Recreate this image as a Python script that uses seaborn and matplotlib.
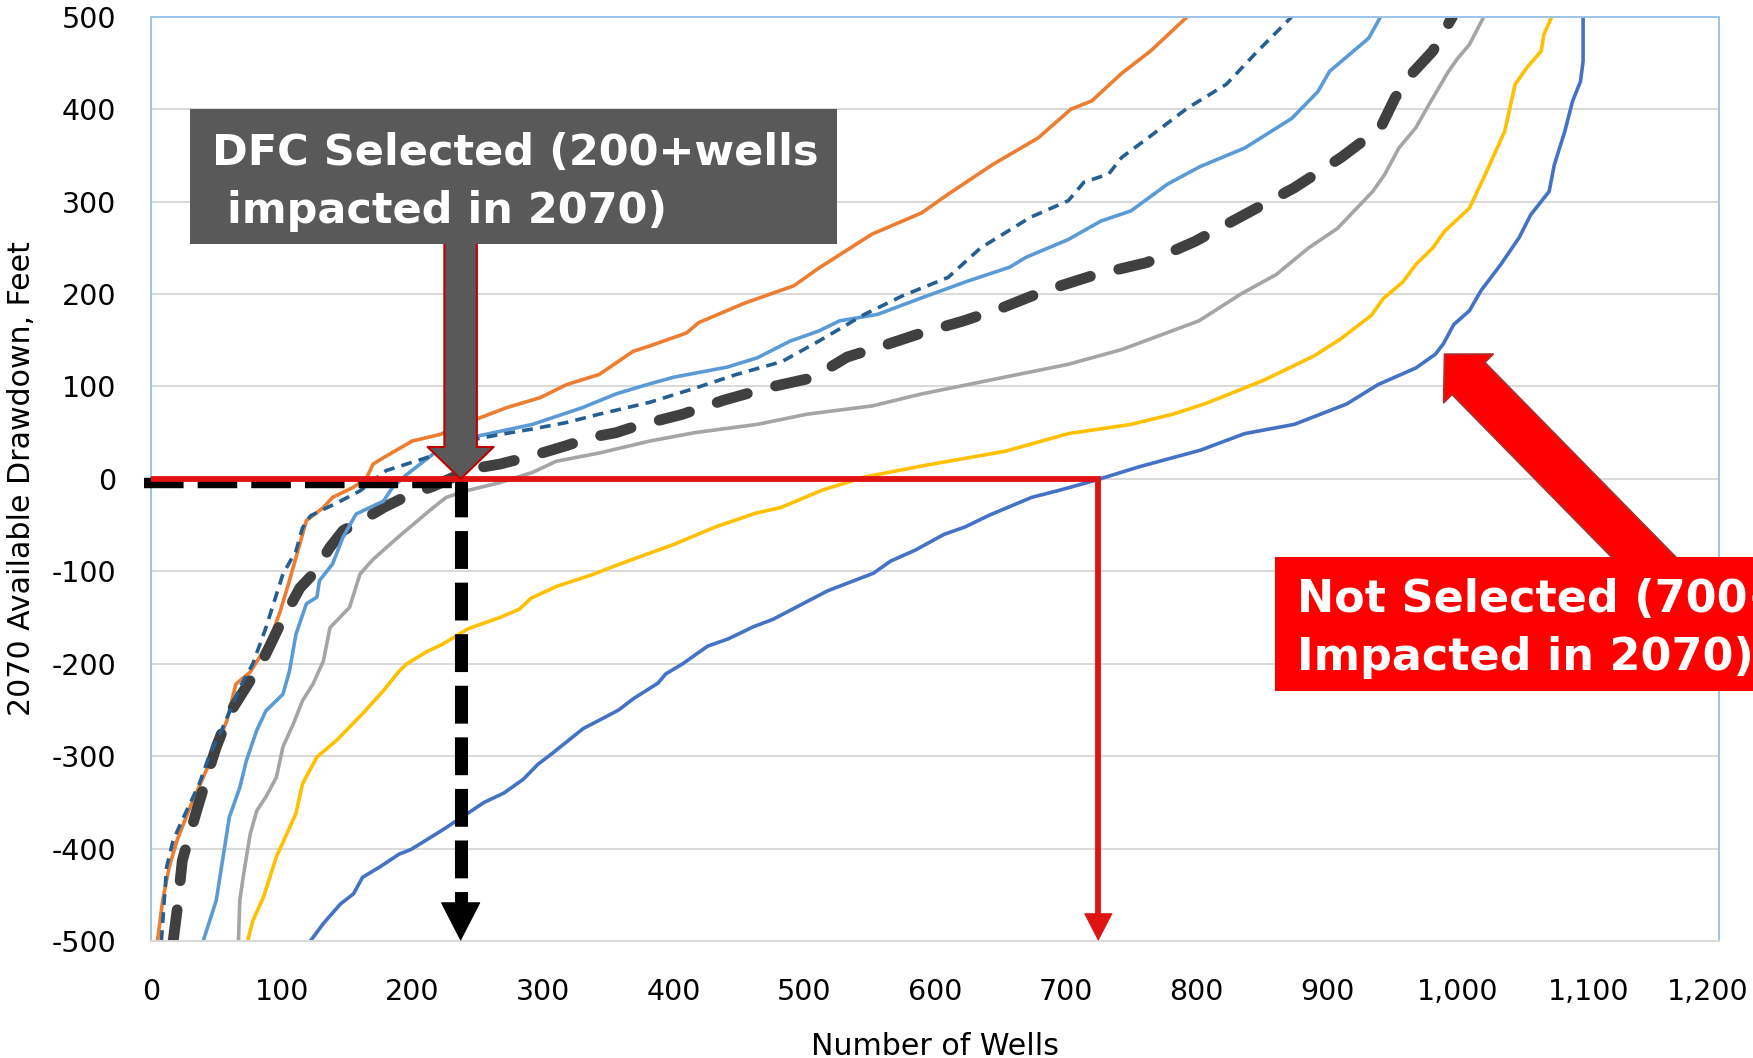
import matplotlib
matplotlib.use("Agg")
import matplotlib.pyplot as plt
import seaborn as sns
import pandas as pd
from matplotlib.patches import FancyArrowPatch, Rectangle, ArrowStyle
from matplotlib.ticker import StrMethodFormatter
from matplotlib.transforms import ScaledTranslation

# Curves: number of wells vs 2070 available drawdown (ft)
orange_x = [5, 9, 14, 20, 30, 40, 50, 58, 65, 76, 91, 99, 106, 111, 119, 132, 139, 155, 165, 170, 178,
            200, 221, 246, 272, 298, 318, 343, 369, 382, 410, 419, 454, 492, 511, 552, 590, 610, 644,
            679, 704, 720, 743, 765, 793]
orange_y = [-500, -456, -420, -391, -355, -323, -290, -262, -222, -209, -175, -143, -110, -85, -45, -31,
            -20, -9, 1, 16, 23, 41, 48, 63, 77, 88, 102, 113, 138, 144, 158, 169, 190, 209, 228, 265,
            288, 308, 340, 369, 400, 409, 439, 463, 500]

navy_x = [8, 12, 17, 25, 37, 45, 55, 68, 78, 88, 101, 111, 116, 122, 135, 145, 160, 180, 211, 241, 267,
          292, 318, 343, 382, 416, 448, 483, 511, 546, 575, 610, 635, 673, 702, 714, 733, 743, 764, 793,
          823, 847, 873]
navy_y = [-500, -420, -391, -366, -330, -298, -269, -226, -200, -161, -103, -78, -53, -40, -31, -24, -13,
          9, 23, 41, 48, 54, 61, 70, 83, 98, 113, 127, 149, 178, 198, 218, 250, 283, 301, 321, 330, 348,
          370, 401, 427, 463, 500]

lightblue_x = [40, 50, 54, 60, 68, 73, 81, 88, 101, 106, 111, 119, 127, 129, 139, 147, 157, 178, 185,
               196, 216, 234, 249, 292, 330, 356, 382, 400, 441, 464, 489, 511, 527, 556, 590, 625, 657,
               670, 702, 727, 750, 778, 803, 837, 873, 893, 902, 932, 941]
lightblue_y = [-500, -456, -420, -366, -334, -305, -272, -251, -233, -208, -168, -135, -128, -110, -92,
               -63, -38, -24, -9, 5, 27, 41, 46, 59, 77, 92, 103, 110, 121, 131, 149, 160, 171, 178, 196,
               214, 229, 240, 259, 279, 290, 319, 338, 358, 390, 419, 441, 477, 500]

dfc_x = [17, 20, 24, 27, 35, 45, 50, 60, 76, 83, 99, 114, 124, 137, 147, 165, 178, 198, 216, 246, 267,
         292, 318, 337, 356, 371, 407, 438, 473, 508, 520, 533, 558, 590, 622, 653, 685, 723, 762, 799,
         837, 875, 911, 941, 952, 962, 981, 996]
dfc_y = [-500, -467, -413, -398, -359, -312, -290, -254, -218, -204, -157, -118, -103, -74, -56, -42, -31,
         -17, -8, 11, 16, 25, 36, 45, 50, 57, 70, 85, 99, 110, 121, 132, 143, 158, 171, 186, 204, 221,
         234, 257, 286, 315, 348, 380, 412, 434, 463, 500]

gray_x = [67, 68, 71, 76, 81, 88, 96, 101, 109, 116, 124, 132, 137, 152, 160, 170, 190, 216, 226, 241,
          267, 292, 310, 343, 382, 416, 464, 502, 552, 590, 653, 702, 743, 802, 834, 861, 886, 908, 935,
          944, 955, 968, 978, 993, 1000, 1009, 1020]
gray_y = [-500, -456, -427, -384, -359, -344, -323, -290, -265, -240, -222, -197, -161, -139, -103, -87,
          -62, -31, -20, -13, -4, 7, 19, 28, 41, 50, 59, 70, 79, 92, 110, 124, 140, 171, 200, 221, 250,
          271, 311, 329, 358, 380, 405, 441, 455, 470, 500]

yellow_x = [74, 78, 86, 91, 96, 104, 111, 116, 127, 142, 162, 178, 190, 196, 211, 223, 243, 267, 282,
            291, 311, 337, 359, 400, 432, 463, 482, 514, 546, 590, 654, 702, 750, 782, 808, 852, 890,
            910, 934, 943, 958, 968, 981, 990, 1009, 1020, 1028, 1036, 1044, 1053, 1064, 1066, 1072]
yellow_y = [-500, -478, -453, -431, -409, -384, -362, -330, -301, -283, -254, -229, -208, -200, -187,
            -179, -162, -150, -141, -129, -116, -104, -92, -71, -52, -37, -31, -12, 2, 14, 30, 49, 59,
            70, 82, 107, 133, 151, 177, 195, 213, 232, 250, 268, 293, 326, 351, 376, 427, 445, 463, 481,
            500]

blue_x = [122, 132, 145, 155, 162, 175, 190, 199, 223, 237, 255, 270, 285, 296, 308, 323, 331, 346, 358,
          369, 388, 394, 407, 426, 442, 461, 476, 499, 518, 553, 566, 585, 607, 623, 642, 674, 696, 724,
          756, 803, 837, 875, 915, 939, 968, 983, 989, 997, 1009, 1018, 1033, 1047, 1056, 1070, 1074,
          1082, 1088, 1094, 1096, 1096]
blue_y = [-500, -481, -460, -449, -431, -420, -406, -401, -380, -367, -350, -340, -325, -309, -296, -279,
          -270, -259, -250, -238, -221, -211, -200, -181, -173, -160, -152, -135, -121, -102, -89, -77,
          -60, -52, -39, -20, -12, -1, 13, 31, 49, 59, 81, 102, 120, 135, 146, 167, 182, 204, 232, 261,
          286, 311, 340, 376, 409, 430, 452, 500]

x_ticks = list(range(0, 1201, 100))
y_ticks = list(range(-500, 501, 100))

dfc_wells = 237
not_selected_wells = 725

sns.set_theme(style="white")
plt.rcParams['font.family'] = ['DejaVu Sans']
plt.rcParams['axes.unicode_minus'] = False

fig = plt.figure(figsize=(17.53, 10.58), dpi=100)
ax = fig.add_axes([0.0861, 0.1106, 0.8945, 0.8735])

# (x, y, colour, width, dashes) in drawing order
series = [
    (blue_x, blue_y, "#4472C4", 2.6, None),
    (orange_x, orange_y, "#ED7D31", 2.6, None),
    (gray_x, gray_y, "#A5A5A5", 2.6, None),
    (yellow_x, yellow_y, "#FFC000", 2.6, None),
    (dfc_x, dfc_y, "#404040", 7.8, (2.9, 2.7)),
    (lightblue_x, lightblue_y, "#5B9BD5", 2.6, None),
    (navy_x, navy_y, "#255E91", 2.6, (3.0, 2.0)),
]
for xs, ys, color, lw, dashes in series:
    df = pd.DataFrame({"wells": xs, "drawdown": ys})
    sns.lineplot(data=df, x="wells", y="drawdown", ax=ax, color=color, lw=lw,
                 estimator=None, sort=False)
    line = ax.lines[-1]
    if dashes is not None:
        line.set_dashes(dashes)
        line.set_dash_capstyle("round" if lw > 5 else "butt")

ax.set_xlim(0, 1200)
ax.set_ylim(-500, 500)
ax.set_xticks(x_ticks)
ax.set_yticks(y_ticks)
ax.xaxis.set_major_formatter(StrMethodFormatter("{x:,.0f}"))
ax.yaxis.grid(True, color="#D9D9D9", lw=1.4)
ax.xaxis.grid(False)
ax.set_axisbelow(True)
for side in ["left", "top", "right"]:
    ax.spines[side].set_color("#9DC3E6")
    ax.spines[side].set_linewidth(1.4)
ax.spines["bottom"].set_color("#D9D9D9")
ax.spines["bottom"].set_linewidth(1.4)
ax.tick_params(length=0, labelsize=20.5, labelcolor="black")
ax.tick_params(axis="y", pad=25)
ax.tick_params(axis="x", pad=27)

ax.set_xlabel("Number of Wells", fontsize=21.6, color="black")
ax.set_ylabel("2070 Available Drawdown, Feet", fontsize=21.6, color="black")
ax.xaxis.set_label_coords(0.5, -0.0985)
ax.yaxis.set_label_coords(-0.0735, 0.5)

red = "#E01212"

# black dashed guide lines for the selected DFC
ax.plot([-5, dfc_wells], [-4, -4], color="black", lw=7.5, dashes=(3.8, 1.35),
        solid_capstyle="butt", clip_on=False, zorder=5)
ax.plot([dfc_wells, dfc_wells], [0, -466], color="black", lw=9.4, dashes=(2.9, 1.05),
        clip_on=False, zorder=5)
ax.add_patch(FancyArrowPatch((dfc_wells, -462), (dfc_wells, -500),
                             arrowstyle=ArrowStyle("-|>", head_length=26.6, head_width=13.7),
                             mutation_scale=1, color="black", lw=0.8, shrinkA=0, shrinkB=0,
                             clip_on=False, zorder=5))

# red guide line for the non-selected scenario
ax.plot([0, not_selected_wells, not_selected_wells], [0, 0, -475], color=red, lw=4.2,
        solid_joinstyle="miter", solid_capstyle="butt", clip_on=False, zorder=6)
ax.add_patch(FancyArrowPatch((not_selected_wells, -470), (not_selected_wells, -500),
                             arrowstyle=ArrowStyle("-|>", head_length=18.7, head_width=9.7),
                             mutation_scale=1, color=red, lw=0.8, shrinkA=0, shrinkB=0,
                             clip_on=False, zorder=6))

# block arrows
ax.add_patch(FancyArrowPatch((dfc_wells, 275), (dfc_wells, 0),
                             arrowstyle="simple,head_length=23,head_width=47.5,tail_width=23.4",
                             mutation_scale=1, fc="#595959", ec="#C00000", lw=1.5,
                             shrinkA=0, shrinkB=0, clip_on=False, zorder=7))
ax.add_patch(FancyArrowPatch((1160, -110), (990, 135),
                             arrowstyle="simple,head_length=24.5,head_width=50,tail_width=33",
                             mutation_scale=1, fc="#FF0000", ec="#A83232", lw=1.3,
                             shrinkA=0, shrinkB=0, clip_on=False, zorder=7))

# annotation boxes
ax.add_patch(Rectangle((30, 254), 495, 146, fc="#595959", ec="none", clip_on=False, zorder=8))
ax.text(47, 340, "DFC Selected (200+wells", color="white", fontsize=31, fontweight="bold",
        va="baseline", ha="left", zorder=9)
ax.text(47, 277, " impacted in 2070)", color="white", fontsize=31, fontweight="bold",
        va="baseline", ha="left", zorder=9)

ax.add_patch(Rectangle((860, -230), 460, 146, fc="#FF0000", ec="none", clip_on=False, zorder=8))
ax.text(877, -144, "Not Selected (700+ wells", color="white", fontsize=32, fontweight="bold",
        va="baseline", ha="left", zorder=9, clip_on=False)
ax.text(877, -206.5, "Impacted in 2070)", color="white", fontsize=32, fontweight="bold",
        va="baseline", ha="left", zorder=9, clip_on=False)

# like Excel, pull the last x label in so it stays inside the picture
last_lbl = ax.get_xticklabels()[-1]
last_lbl.set_transform(last_lbl.get_transform() +
                       ScaledTranslation(-0.11, 0, fig.dpi_scale_trans))

fig.savefig("out.png", dpi=100)
